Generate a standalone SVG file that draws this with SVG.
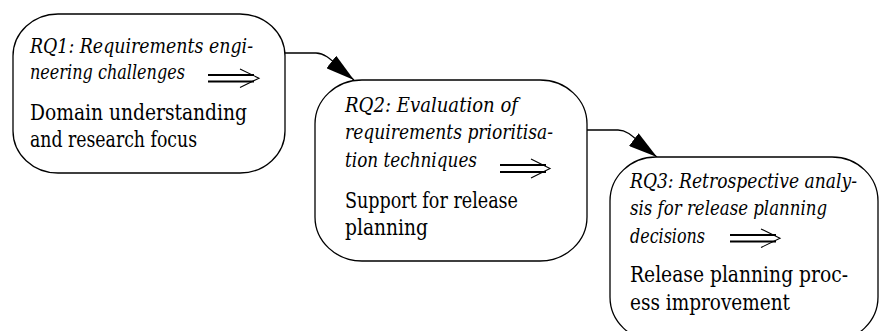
<svg xmlns="http://www.w3.org/2000/svg" width="879" height="331" viewBox="0 0 879 331">
<style>
.box{fill:#fff;stroke:#000;stroke-width:1.3}
.it{font-family:'DejaVu Serif Condensed','DejaVu Serif',serif;font-stretch:condensed;font-style:italic;font-size:20px;fill:#000}
.rm{font-family:'DejaVu Serif Condensed','DejaVu Serif',serif;font-stretch:condensed;font-size:22px;fill:#000}
.dl{stroke:#000;stroke-width:2;fill:none}
.ch{stroke:#000;stroke-width:1.1;fill:none}
.con{stroke:#000;stroke-width:1.3;fill:none;marker-end:url(#ah)}
</style>
<defs>
<marker id="ah" markerUnits="userSpaceOnUse" markerWidth="29" markerHeight="16" refX="29" refY="8" orient="auto" viewBox="0 0 29 16">
<path d="M0,0 L29,8 L0,16 z" fill="#000"/>
</marker>
</defs>
<g id="connectors">
<path class="con" d="M285,53 H316 C328,53 335,65 354,80"/>
<path class="con" d="M587,130 H618 C630,130 637,142 657,157"/>
</g>
<g id="rq1">
<rect class="box" x="13" y="14" width="272" height="159" rx="45" ry="42"/>
<text class="it" x="30" y="53" textLength="223" lengthAdjust="spacingAndGlyphs">RQ1: Requirements engi-</text>
<text class="it" x="30" y="79" textLength="155" lengthAdjust="spacingAndGlyphs">neering challenges</text>
<line class="dl" x1="208" y1="75" x2="254" y2="75"/>
<line class="dl" x1="208" y1="81.5" x2="254" y2="81.5"/>
<polyline class="ch" points="240,69 259,78.2 240,87.5"/>
<text class="rm" x="30" y="120" textLength="217" lengthAdjust="spacingAndGlyphs">Domain understanding</text>
<text class="rm" x="30" y="147" textLength="167" lengthAdjust="spacingAndGlyphs">and research focus</text>
</g>
<g id="rq2">
<rect class="box" x="315" y="80" width="272" height="181" rx="47" ry="44"/>
<text class="it" x="345" y="112" textLength="173" lengthAdjust="spacingAndGlyphs">RQ2: Evaluation of</text>
<text class="it" x="345" y="139" textLength="208" lengthAdjust="spacingAndGlyphs">requirements prioritisa-</text>
<text class="it" x="345" y="167" textLength="132" lengthAdjust="spacingAndGlyphs">tion techniques</text>
<line class="dl" x1="500" y1="165" x2="546" y2="165"/>
<line class="dl" x1="500" y1="172" x2="546" y2="172"/>
<polyline class="ch" points="531,159 550,168.5 531,178"/>
<text class="rm" x="345" y="208" textLength="173" lengthAdjust="spacingAndGlyphs">Support for release</text>
<text class="rm" x="345" y="235" textLength="83" lengthAdjust="spacingAndGlyphs">planning</text>
</g>
<g id="rq3">
<rect class="box" x="610" y="157" width="268" height="184" rx="46" ry="44"/>
<text class="it" x="630" y="188" textLength="227" lengthAdjust="spacingAndGlyphs">RQ3: Retrospective analy-</text>
<text class="it" x="630" y="215" textLength="197" lengthAdjust="spacingAndGlyphs">sis for release planning</text>
<text class="it" x="630" y="243" textLength="75" lengthAdjust="spacingAndGlyphs">decisions</text>
<line class="dl" x1="730" y1="235" x2="776" y2="235"/>
<line class="dl" x1="730" y1="241.5" x2="776" y2="241.5"/>
<polyline class="ch" points="761,229 780,238.2 761,247.5"/>
<text class="rm" x="630" y="282" textLength="218" lengthAdjust="spacingAndGlyphs">Release planning proc-</text>
<text class="rm" x="630" y="310" textLength="160" lengthAdjust="spacingAndGlyphs">ess improvement</text>
</g>
</svg>
